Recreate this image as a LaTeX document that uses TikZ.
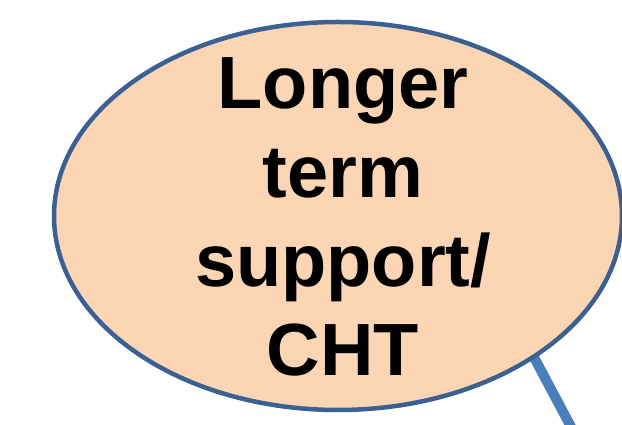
\documentclass[tikz,border=0pt]{standalone}
\usepackage{fontspec}
\setmainfont{Liberation Sans}
\usetikzlibrary{shapes.geometric}
\definecolor{bubblefill}{HTML}{FCD5B5}
\definecolor{bubbleline}{HTML}{3B6192}
\definecolor{tailblue}{HTML}{4A7EBB}
\tikzset{
  bubble/.style={ellipse, draw=bubbleline, fill=bubblefill, line width=4.5pt,
    minimum width=568pt, minimum height=388pt, inner sep=0pt},
  bubbletext/.style={align=center, inner sep=0pt,
    font=\bfseries\fontsize{74}{89}\selectfont},
  tail/.style={draw=tailblue, line width=10pt, line cap=butt}
}
\begin{document}
\begin{tikzpicture}[x=1pt,y=1pt]
\useasboundingbox (0,0) rectangle (622,425);
% pointer line leaving the bubble at the lower right
\coordinate (tailstart) at (528,79);
\coordinate (tailend) at (586,-30);
\draw[tail] (tailstart) -- (tailend);
% the speech bubble
\node[bubble] (bubble) at (338,209) {};
\node[bubbletext] (label) at ([xshift=5pt,yshift=-1pt]bubble.center) {Longer\\term\\support/\\CHT};
\end{tikzpicture}
\end{document}
